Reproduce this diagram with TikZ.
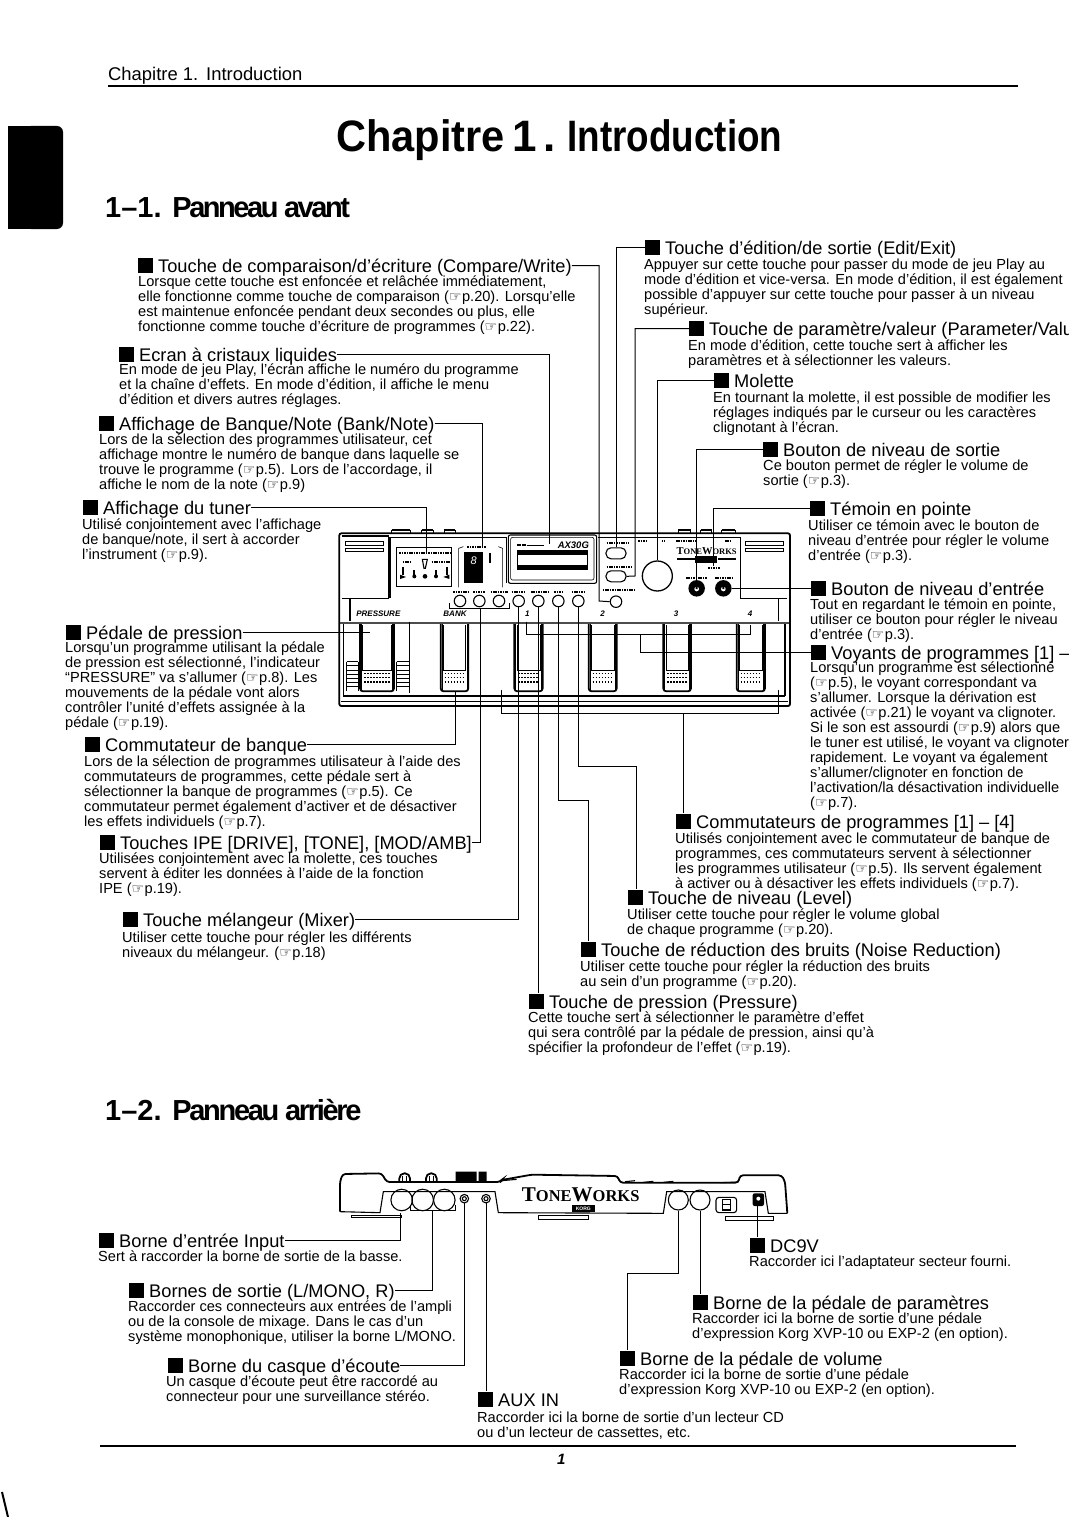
\documentclass[tikz,border=0pt]{standalone}
\usepackage{fontspec}
\usepackage{graphicx}
\setmainfont{Liberation Sans}
\newfontfamily\djv{DejaVu Sans}
\newfontfamily\srf{Liberation Serif}
\usetikzlibrary{calc}
\newcommand\hd{{\djv\fontsize{14}{14}\selectfont ☞}\kern.5pt}
\newcommand\sq{\rule[-1pt]{15pt}{15pt}\kern5pt}
\newcommand\hh[4]{\node[hhead] (#1) at (#2,#3+1) {\sq #4};}
\newcommand\bb[4]{\node[bbody] (#1) at (#2,#3-11) {\rule{0pt}{12pt}#4};}
\tikzset{
 hhead/.style={font=\fontsize{18.25}{20}\selectfont,inner sep=0pt,anchor=base west,text height=15pt,text depth=2pt},
 bbody/.style={font=\fontsize{14.6}{15}\selectfont,inner sep=0pt,anchor=north west,align=left},
 conn/.style={line width=1pt,black},
 body/.style={line width=1.1pt},
 thin1/.style={line width=.6pt},
 heavy/.style={line width=1.8pt},
 tiny/.style={line width=2pt,dash pattern=on 1.6pt off .8pt},
 dots/.style={line width=1.6pt,dash pattern=on 1.6pt off 1.4pt},
 jack/.style={circle,draw,line width=1.1pt,inner sep=0pt,minimum size=#1pt},
 pill/.style={rectangle,draw,line width=1.1pt,rounded corners=5pt,inner sep=0pt,minimum width=20pt,minimum height=11pt},
 pagetxt/.style={inner sep=0pt,anchor=base west},
 plabel/.style={font=\fontsize{8}{10}\bfseries\itshape\selectfont,inner sep=0pt},
}
\begin{document}
\begin{tikzpicture}[x=1pt,y=-1pt]
\useasboundingbox (0,0) rectangle (1068,1517);
% page furniture
\node[pagetxt,font=\fontsize{18.4}{20}\selectfont] (pagehead) at (108,81) {Chapitre 1.\kern8pt Introduction};
\draw[line width=1.4pt] (108,86) -- (1018,86);
\fill (8,126) rectangle (35,229);
\fill[rounded corners=6pt] (25,126) -- (63,126) -- (63,229) -- (25,229) -- cycle;
\node[pagetxt,font=\fontsize{44}{48}\bfseries\selectfont] (title) at (336,152) {\scalebox{.945}[1]{Chapitre}\kern8pt 1\kern6pt.\kern12pt\scalebox{.837}[1]{Introduction}};
\node[pagetxt,font=\fontsize{29}{32}\bfseries\selectfont] (sec1) at (105,217) {1–1. \addfontfeature{LetterSpace=-8.5}Panneau avant};
\node[pagetxt,font=\fontsize{29}{32}\bfseries\selectfont] (sec2) at (105,1120) {1–2. \addfontfeature{LetterSpace=-8}Panneau arrière};
\draw[line width=1.4pt] (100,1446) -- (1016,1446);
\node[pagetxt,font=\fontsize{15}{18}\bfseries\itshape\selectfont] (folio) at (557,1464) {1};
\draw[line width=2pt] (2,1492) -- (8,1517);
% ---------- front panel (zoom coordinates) ----------
\begin{scope}[shift={(320,500)},x=0.33333pt,y=-0.33333pt]
\draw[heavy,rounded corners=2pt] (58,100) rectangle (1410,618);
\draw[body] (65,108) -- (205,108) -- (205,295) -- (65,295);
\draw[thin1] (75,125) rectangle (190,135) (75,145) rectangle (190,155);
\draw[body] (1262,112) -- (1262,295) -- (1400,295);
\draw[thin1] (1275,125) rectangle (1390,135) (1275,145) rectangle (1390,155);
\draw[body] (210,295) -- (210,112) -- (560,112) -- (560,250);
\draw[body] (835,112) -- (1262,112);
\draw[body] (215,90) -- (270,90) (305,90) -- (340,90) (372,90) -- (405,90);
\draw[body] (1075,90) -- (1112,90) (1142,90) -- (1175,90) (1205,90) -- (1245,90);
\draw[thin1] (215,90) -- (215,100) (270,90) -- (270,100) (305,90) -- (305,100) (340,90) -- (340,100) (372,90) -- (372,100) (405,90) -- (405,100) (1075,90) -- (1075,100) (1112,90) -- (1112,100) (1142,90) -- (1142,100) (1175,90) -- (1175,100) (1205,90) -- (1205,100) (1245,90) -- (1245,100);
% tuner
\draw[thin1] (230,143) rectangle (395,260);
\draw[tiny] (238,159) -- (390,159) (248,187) -- (270,187) (335,187) -- (390,187);
\draw[heavy] (250,200) -- (250,225) (283,210) -- (283,228) (348,210) -- (348,228) (381,200) -- (381,225);
\draw[body] (307,178) -- (322,178) -- (316,205) -- (312,205) -- cycle;
\fill (240,224) -- (258,231) -- (240,237) -- cycle (388,224) -- (370,231) -- (388,237) -- cycle;
\fill (283,229) circle[radius=6] (315,229) circle[radius=7] (348,229) circle[radius=6];
% bank display
\draw[thin1] (416,262) -- (416,145) -- (430,140) (535,140) -- (548,145) -- (548,262);
\draw[tiny] (442,140) -- (498,140);
\fill (433,155) rectangle (490,250);
\node[font=\fontsize{11}{11}\itshape\selectfont,text=white,inner sep=0pt] (digit) at (461,182) {8};
\draw[line width=2pt] (510,160) -- (510,190);
% LCD
\draw[body,rounded corners=2pt] (565,105) rectangle (830,250);
\draw[thin1,rounded corners=2pt] (572,112) rectangle (822,240);
\fill (590,150) rectangle (805,210);
\fill[white] (595,165) rectangle (800,195);
\draw[line width=2.5pt,dash pattern=on 2pt off .6pt] (590,135) -- (620,135);
\draw[thin1] (620,135) -- (672,135);
\node[font=\fontsize{9.5}{10}\bfseries\itshape\selectfont,inner sep=0pt] (ax) at (760,135) {AX30G};
% keys
\draw[tiny] (860,129) -- (925,129) (860,200) -- (935,200) (848,270) -- (945,270);
\node[pill] (oa) at (888,160) {};
\node[pill] (ob) at (888,229) {};
\node[jack=11.5] (bc) at (888,305) {};
\node[jack=30,line width=1.3pt] (knob) at (1012,228) {};
\draw[tiny] (955,122) -- (980,122) (1025,122) -- (1035,122) (1068,122) -- (1130,122) (1215,122) -- (1235,122);
% logo
\node[font=\srf\fontsize{10.5}{10}\bfseries\selectfont,inner sep=0pt] (logo) at (1160,153) {T\fontsize{8.5}{10}\selectfont ONE\fontsize{10.5}{10}\selectfont W\fontsize{8.5}{10}\selectfont ORKS};
\draw[body] (1072,177) -- (1125,177) (1195,177) -- (1248,177);
\fill (1125,168) rectangle (1192,190);
\draw[tiny] (1165,205) -- (1200,205) (1098,233) -- (1160,233) (1185,233) -- (1240,233);
% knobs
\node[circle,fill=black,inner sep=0pt,minimum size=16.5pt] (ka) at (1130,265) {};
\node[circle,fill=black,inner sep=0pt,minimum size=16.5pt] (kb) at (1210,265) {};
\fill[white] (1130,267) circle[radius=7] (1210,267) circle[radius=7];
\fill (1127,255) rectangle (1133,267) (1207,255) rectangle (1213,267);
\coordinate (led) at (1180,198);
% small buttons
\draw[tiny] (400,275) -- (445,275) (460,275) -- (495,275) (512,275) -- (565,275) (575,275) -- (618,275) (633,275) -- (685,275) (703,275) -- (725,275) (755,275) -- (795,275);
\node[jack=11.5] (b1) at (420,303) {};
\node[jack=11.5] (b2) at (478,303) {};
\node[jack=11.5] (b3) at (537,303) {};
\node[jack=11.5] (b4) at (596,303) {};
\node[jack=11.5] (b5) at (655,303) {};
\node[jack=11.5] (b6) at (715,303) {};
\node[jack=11.5] (b7) at (775,303) {};
% lower strip
\draw[body] (70,295) -- (90,295) -- (90,362) (1260,295) -- (1375,295) -- (1375,362);
\draw[line width=2pt,black!70] (60,368) -- (1408,368);
\node[plabel] (lp) at (175,342) {PRESSURE};
\node[plabel] (lb) at (405,342) {BANK};
\foreach \xx/\nn in {622/1,848/2,1068/3,1290/4}{\node[plabel] (l\nn) at (\xx,342) {\nn};}
% pedals
\foreach \xa/\xb in {120/222,362/445,583/668,806/890,1030/1113,1250/1335}{
 \draw[heavy,rounded corners=3pt] (\xa,372) -- (\xa,574) -- (\xb,574) -- (\xb,372);
 \draw[thin1] (\xa+8,375) -- (\xa+8,510) -- (\xb-8,510) -- (\xb-8,375);
 \draw[thin1] (\xa+4,372) -- (\xa+4,570) (\xb-4,372) -- (\xb-4,570);
 \draw[dots] (\xa+12,520) -- (\xb-10,520) (\xa+12,533) -- (\xb-10,533) (\xa+12,546) -- (\xb-10,546);
}
% pressure pedal side slats
\foreach \yy in {485,497,510,522,535,547,560}{\draw[thin1] (80,\yy) -- (115,\yy) (230,\yy) -- (268,\yy);}
\draw[body] (80,485) -- (80,572) (115,485) -- (115,572) (230,485) -- (230,572) (268,365) -- (268,578);
\draw[body] (70,372) -- (70,585);
\draw[body] (70,588) -- (1395,588) (1395,372) -- (1395,588);
\draw[thin1] (62,604) -- (1405,604);
% brackets
\coordinate (bra) at (388,308); \coordinate (brb) at (568,308);
\draw[conn] (bra) |- (480,326) -| (brb);
\coordinate (ipe) at (480,326);
\coordinate (lda) at (620,365); \coordinate (ldb) at (1290,375);
\draw[conn] (lda) |- (960,403) -| (ldb);
\coordinate (vo) at (960,403);
\coordinate (swa) at (543,570); \coordinate (swb) at (1375,570);
\draw[conn] (swa) |- (1090,640) -| (swb);
\coordinate (sw) at (1090,640);
\coordinate (tun) at (320,160);
\coordinate (bkd) at (486,138);
\coordinate (lcd) at (687,132);
\coordinate (ped) at (150,402);
\coordinate (bsw) at (405,574);
\end{scope}
% ---------- rear panel (zoom coordinates) ----------
\begin{scope}[shift={(320,1150)},x=0.33333pt,y=-0.33333pt]
\draw[heavy,rounded corners=3pt] (60,185) -- (60,95) -- (68,72) -- (185,70) -- (200,96) -- (540,96) -- (545,90) -- (635,74) -- (893,78) -- (900,98) -- (1255,98) -- (1260,76) -- (1385,76) -- (1395,95) -- (1402,190);
\draw[body] (60,185) -- (180,188) -- (190,125) -- (525,125) -- (535,188) -- (1030,190) -- (1040,125) -- (1335,125) -- (1345,190) -- (1402,190);
\draw[heavy,rounded corners=5pt] (238,95) -- (238,70) -- (270,70) -- (270,95);
\draw[heavy,rounded corners=5pt] (318,95) -- (318,70) -- (350,70) -- (350,95);
\draw[thin1] (248,95) -- (248,78) (260,95) -- (260,78) (328,95) -- (328,78) (340,95) -- (340,78);
\fill (407,65) rectangle (470,97) (476,65) rectangle (500,97);
\draw[body] (545,92) -- (590,88);
\draw[body] (915,95) -- (945,92) (970,97) -- (1000,94) (1030,97) -- (1060,94);
\draw[body] (1200,98) -- (1255,96);
\draw[thin1] (95,195) rectangle (245,203) (655,195) rectangle (805,207) (1215,198) rectangle (1360,210);
\node[jack=21.5] (ji) at (245,150) {};
\node[jack=21.5] (jl) at (308,150) {};
\node[jack=21.5] (jr) at (373,150) {};
\node[jack=8.5] (jp) at (433,146) {};
\node[jack=4] (jpi) at (433,146) {};
\node[jack=8.5] (ja) at (498,146) {};
\node[jack=4] (jai) at (498,146) {};
\node[jack=20] (jv) at (1075,150) {};
\node[jack=20] (jx) at (1140,150) {};
\draw[body,rounded corners=3pt] (1188,142) rectangle (1250,188);
\draw[body] (1208,148) rectangle (1232,180);
\draw[thin1] (1208,164) -- (1232,164);
\fill[rounded corners=2pt] (1298,130) rectangle (1332,168);
\fill[white] (1315,146) circle[radius=6];
\node[font=\srf\fontsize{21}{24}\bfseries\selectfont,inner sep=0pt] (logob) at (782,134) {T\fontsize{16.5}{24}\selectfont ONE\fontsize{21}{24}\selectfont W\fontsize{16.5}{24}\selectfont ORKS};
\fill (755,165) rectangle (825,185);
\node[font=\fontsize{5}{6}\bfseries\selectfont,text=white,inner sep=0pt] (korg) at (790,175) {KORG};
\draw[conn] (272,165) -- (272,180) -- (405,180) -- (405,165);
\coordinate (jin) at (242,190);
\coordinate (jout) at (337,180);
\coordinate (jdc) at (1312,168);
\end{scope}
% ---------- text: left, front ----------
\hh{hcw}{138}{271}{Touche de comparaison/d'écriture (Compare/Write)}
\bb{tcw}{138}{285}{Lorsque cette touche est enfoncée et relâchée immédiatement,\\elle fonctionne comme touche de comparaison (\hd p.20). Lorsqu'elle\\est maintenue enfoncée pendant deux secondes ou plus, elle\\fonctionne comme touche d'écriture de programmes (\hd p.22).}
\hh{hec}{119}{360}{Ecran à cristaux liquides}
\bb{tec}{119}{373}{En mode de jeu Play, l'écran affiche le numéro du programme\\et la chaîne d'effets. En mode d'édition, il affiche le menu\\d'édition et divers autres réglages.}
\hh{hbk}{99}{429}{Affichage de Banque/Note (Bank/Note)}
\bb{tbk}{99}{443}{Lors de la sélection des programmes utilisateur, cet\\affichage montre le numéro de banque dans laquelle se\\trouve le programme (\hd p.5). Lors de l'accordage, il\\affiche le nom de la note (\hd p.9)}
\hh{htn}{83}{513}{Affichage du tuner}
\bb{ttn}{82}{528}{Utilisé conjointement avec l'affichage\\de banque/note, il sert à accorder\\l'instrument (\hd p.9).}
\hh{hpd}{66}{638}{Pédale de pression}
\bb{tpd}{65}{651}{Lorsqu'un programme utilisant la pédale\\de pression est sélectionné, l'indicateur\\“PRESSURE” va s'allumer (\hd p.8). Les\\mouvements de la pédale vont alors\\contrôler l'unité d'effets assignée à la\\pédale (\hd p.19).}
\hh{hbq}{85}{750}{Commutateur de banque}
\bb{tbq}{84}{765}{Lors de la sélection de programmes utilisateur à l'aide des\\commutateurs de programmes, cette pédale sert à\\sélectionner la banque de programmes (\hd p.5). Ce\\commutateur permet également d'activer et de désactiver\\les effets individuels (\hd p.7).}
\hh{hip}{100}{848}{Touches IPE [DRIVE], [TONE], [MOD/AMB]}
\bb{tip}{99}{862}{Utilisées conjointement avec la molette, ces touches\\servent à éditer les données à l'aide de la fonction\\IPE (\hd p.19).}
\hh{hmx}{123}{925}{Touche mélangeur (Mixer)}
\bb{tmx}{122}{941}{Utiliser cette touche pour régler les différents\\niveaux du mélangeur. (\hd p.18)}
% ---------- text: right, front ----------
\hh{hed}{645}{253}{Touche d'édition/de sortie (Edit/Exit)}
\bb{ted}{644}{268}{Appuyer sur cette touche pour passer du mode de jeu Play au\\mode d'édition et vice-versa. En mode d'édition, il est également\\possible d'appuyer sur cette touche pour passer à un niveau\\supérieur.}
\hh{hpv}{689}{334}{Touche de paramètre/valeur (Parameter/Valu}
\bb{tpv}{688}{349}{En mode d'édition, cette touche sert à afficher les\\paramètres et à sélectionner les valeurs.}
\hh{hml}{714}{386}{Molette}
\bb{tml}{713}{401}{En tournant la molette, il est possible de modifier les\\réglages indiqués par le curseur ou les caractères\\clignotant à l'écran.}
\hh{hou}{763}{455}{Bouton de niveau de sortie}
\bb{tou}{763}{469}{Ce bouton permet de régler le volume de\\sortie (\hd p.3).}
\hh{htm}{810}{514}{Témoin en pointe}
\bb{ttm}{808}{529}{Utiliser ce témoin avec le bouton de\\niveau d'entrée pour régler le volume\\d'entrée (\hd p.3).}
\hh{hin}{811}{594}{Bouton de niveau d'entrée}
\bb{tin}{810}{608}{Tout en regardant le témoin en pointe,\\utiliser ce bouton pour régler le niveau\\d'entrée (\hd p.3).}
\hh{hvo}{811}{658}{Voyants de programmes [1] –}
\bb{tvo}{810}{671}{Lorsqu'un programme est sélectionné\\(\hd p.5), le voyant correspondant va\\s'allumer. Lorsque la dérivation est\\activée (\hd p.21) le voyant va clignoter.\\Si le son est assourdi (\hd p.9) alors que\\le tuner est utilisé, le voyant va clignoter\\rapidement. Le voyant va également\\s'allumer/clignoter en fonction de\\l'activation/la désactivation individuelle\\(\hd p.7).}
\hh{hsw}{676}{827}{Commutateurs de programmes [1] – [4]}
\bb{tsw}{675}{842}{Utilisés conjointement avec le commutateur de banque de\\programmes, ces commutateurs servent à sélectionner\\les programmes utilisateur (\hd p.5). Ils servent également\\à activer ou à désactiver les effets individuels (\hd p.7).}
\hh{hlv}{628}{903}{Touche de niveau (Level)}
\bb{tlv}{627}{918}{Utiliser cette touche pour régler le volume global\\de chaque programme (\hd p.20).}
\hh{hnr}{581}{955}{Touche de réduction des bruits (Noise Reduction)}
\bb{tnr}{580}{970}{Utiliser cette touche pour régler la réduction des bruits\\au sein d'un programme (\hd p.20).}
\hh{hpr}{529}{1007}{Touche de pression (Pressure)}
\bb{tpr}{528}{1021}{Cette touche sert à sélectionner le paramètre d'effet\\qui sera contrôlé par la pédale de pression, ainsi qu'à\\spécifier la profondeur de l'effet (\hd p.19).}
% ---------- text: rear ----------
\hh{hji}{99}{1246}{Borne d'entrée Input}
\bb{tji}{98}{1260}{Sert à raccorder la borne de sortie de la basse.}
\hh{hjo}{129}{1296}{Bornes de sortie (L/MONO, R)}
\bb{tjo}{128}{1310}{Raccorder ces connecteurs aux entrées de l'ampli\\ou de la console de mixage. Dans le cas d'un\\système monophonique, utiliser la borne L/MONO.}
\hh{hjc}{168}{1371}{Borne du casque d'écoute}
\bb{tjc}{166}{1385}{Un casque d'écoute peut être raccordé au\\connecteur pour une surveillance stéréo.}
\hh{hja}{478}{1405}{AUX IN}
\bb{tja}{477}{1421}{Raccorder ici la borne de sortie d'un lecteur CD\\ou d'un lecteur de cassettes, etc.}
\hh{hjv}{620}{1364}{Borne de la pédale de volume}
\bb{tjv}{619}{1378}{Raccorder ici la borne de sortie d'une pédale\\d'expression Korg XVP-10 ou EXP-2 (en option).}
\hh{hjx}{693}{1308}{Borne de la pédale de paramètres}
\bb{tjx}{692}{1322}{Raccorder ici la borne de sortie d'une pédale\\d'expression Korg XVP-10 ou EXP-2 (en option).}
\hh{hjd}{750}{1251}{DC9V}
\bb{tjd}{749}{1265}{Raccorder ici l'adaptateur secteur fourni.}
% ---------- connectors: front ----------
\coordinate (ccw) at (599,601);
\draw[conn] (hcw.east) -| (ccw) -- (bc.west);
\draw[conn] (hec.east) -| (lcd);
\draw[conn] (hbk.east) -| (bkd);
\draw[conn] (htn.east) -| (tun);
\draw[conn] (hpd.east) -- (ped |- hpd.east);
\draw[conn] (hbq.east) -| (bsw);
\draw[conn] (hip.east) -| (ipe);
\draw[conn] (hmx.east) -| (b4.south);
\draw[conn] (hed.west) -| (oa.north);
\coordinate (cpv) at (635,576);
\draw[conn] (hpv.west) -| (cpv) -- (ob.east);
\draw[conn] (hml.west) -| (knob.north);
\draw[conn] (hou.west) -| (ka.north);
\draw[conn] (htm.west) -| (led);
\draw[conn] (kb.east) -- (kb.east -| hin.west);
\draw[conn] (hvo.west) -| (vo);
\draw[conn] (sw) -- (sw |- hsw.north);
\draw[conn] (b5.south) -- (b5.south |- hpr.north);
\coordinate (cn) at (588,800);
\draw[conn] (b6.south) |- (cn) -- (cn |- hnr.north);
\coordinate (cl) at (636,766);
\draw[conn] (b7.south) |- (cl) -- (cl |- hlv.north);
% ---------- connectors: rear ----------
\draw[conn] (hji.east) -| (jin);
\draw[conn] (hjo.east) -| (jout);
\draw[conn] (hjc.east) -| (jp.south);
\draw[conn] (ja.south) -- (ja.south |- hja.north);
\coordinate (cv) at (627,1273);
\draw[conn] (jv.south) |- (cv) -- (cv |- hjv.north);
\draw[conn] (jx.south) -- (jx.south |- hjx.north);
\draw[conn] (jdc) -- (jdc |- hjd.north);
\end{tikzpicture}
\end{document}
